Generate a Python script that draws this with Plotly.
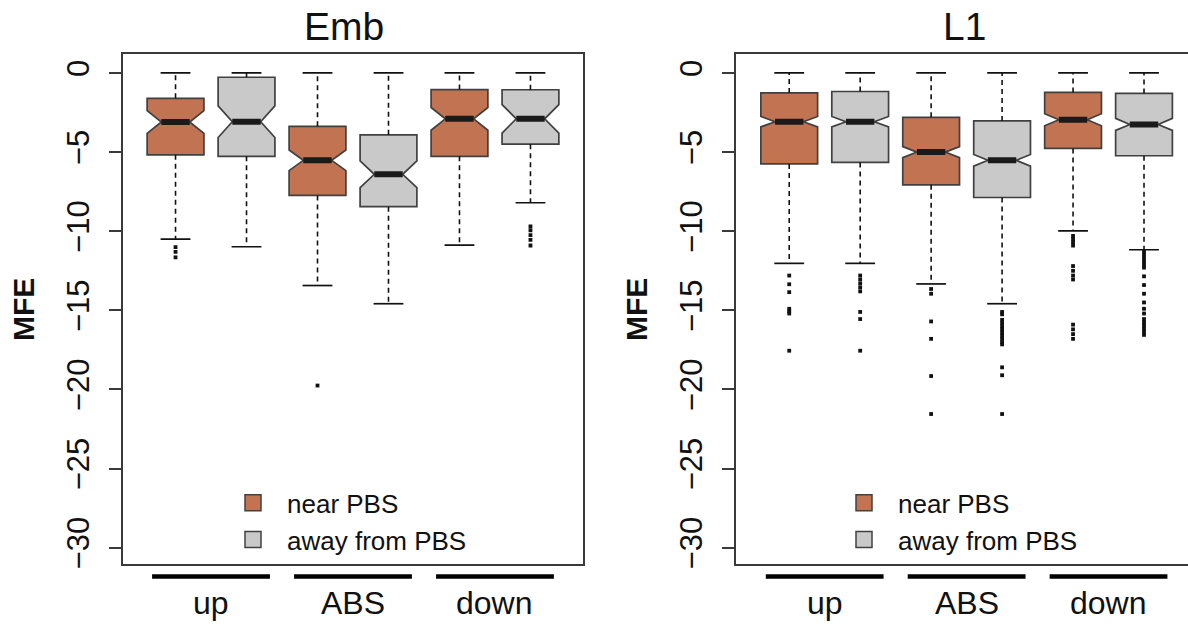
import plotly.graph_objects as go

# ---------------- data ----------------
groups = ["up", "ABS", "down"]
series = ["near PBS", "away from PBS"]
panels = ["Emb", "L1"]

# Emb panel
emb_near_q1 = [-5.17, -7.74, -5.27]
emb_near_med = [-3.10, -5.52, -2.90]
emb_near_q3 = [-1.60, -3.37, -1.05]
emb_near_lo = [-10.50, -13.43, -10.88]
emb_near_hi = [0.0, 0.0, 0.0]
emb_near_notch = [0.72, 0.65, 0.72]
emb_near_out = [[-11.0, -11.3, -11.65], [-19.75], []]

emb_away_q1 = [-5.27, -8.45, -4.50]
emb_away_med = [-3.08, -6.40, -2.90]
emb_away_q3 = [-0.27, -3.91, -1.06]
emb_away_lo = [-10.98, -14.58, -8.20]
emb_away_hi = [0.0, 0.0, 0.0]
emb_away_notch = [1.00, 0.85, 0.90]
emb_away_out = [[], [], [-9.7, -9.95, -10.25, -10.55, -10.9]]

# L1 panel
l1_near_q1 = [-5.75, -7.07, -4.77]
l1_near_med = [-3.08, -5.00, -2.96]
l1_near_q3 = [-1.26, -2.80, -1.23]
l1_near_lo = [-12.03, -13.33, -9.98]
l1_near_hi = [0.0, 0.0, 0.0]
l1_near_notch = [0.33, 0.35, 0.38]
l1_near_out = [
    [-12.8, -13.35, -13.85, -14.9, -15.05, -15.2, -17.55],
    [-13.65, -13.95, -15.7, -16.8, -19.15, -21.55],
    [-10.3, -10.5, -10.7, -10.9, -12.2, -12.5, -12.8, -13.05, -15.9, -16.2, -16.5, -16.8],
]

l1_away_q1 = [-5.65, -7.87, -5.23]
l1_away_med = [-3.08, -5.52, -3.25]
l1_away_q3 = [-1.17, -3.03, -1.29]
l1_away_lo = [-12.03, -14.58, -11.17]
l1_away_hi = [0.0, 0.0, 0.0]
l1_away_notch = [0.33, 0.37, 0.38]
l1_away_out = [
    [-12.8, -13.05, -13.3, -13.55, -13.8, -15.1, -15.55, -17.55],
    [-15.1, -15.25, -15.6, -15.8, -16.0, -16.2, -16.4, -16.6, -16.8, -17.0, -17.15, -18.6, -19.1, -21.55],
    [-11.3, -11.5, -11.7, -11.9, -12.1, -12.3, -12.85, -13.4, -13.95, -14.5, -14.9, -15.2,
     -15.55, -15.75, -15.95, -16.15, -16.35, -16.55],
]

y_ticks = [0, -5, -10, -15, -20, -25, -30]

# ---------------- style ----------------
FONT = "Liberation Sans, Arial, Helvetica, sans-serif"
COL_NEAR = "#C27452"
COL_AWAY = "#C9C9C9"
EDGE = "#404040"
BOXW = 0.8
CAP = 0.21
MEDHW = 0.2

near_pos = [1, 3, 5]
away_pos = [2, 4, 6]

panel_data = [
    dict(xa="x", ya="y", legend="legend",
         near=(emb_near_q1, emb_near_med, emb_near_q3, emb_near_lo, emb_near_hi, emb_near_notch, emb_near_out),
         away=(emb_away_q1, emb_away_med, emb_away_q3, emb_away_lo, emb_away_hi, emb_away_notch, emb_away_out)),
    dict(xa="x2", ya="y2", legend="legend2",
         near=(l1_near_q1, l1_near_med, l1_near_q3, l1_near_lo, l1_near_hi, l1_near_notch, l1_near_out),
         away=(l1_away_q1, l1_away_med, l1_away_q3, l1_away_lo, l1_away_hi, l1_away_notch, l1_away_out)),
]

fig = go.Figure()

# boxes first
for p in panel_data:
    for key, pos, col in (("near", near_pos, COL_NEAR), ("away", away_pos, COL_AWAY)):
        q1, med, q3, lo, hi, nspan, out = p[key]
        fig.add_trace(go.Box(
            x=pos, q1=q1, median=med, q3=q3, lowerfence=q1, upperfence=q3,
            notched=True, notchspan=nspan, notchwidth=0.25,
            width=BOXW, whiskerwidth=0, fillcolor=col,
            line=dict(color=EDGE, width=1.7), boxpoints=False,
            xaxis=p["xa"], yaxis=p["ya"], showlegend=False, hoverinfo="skip"))

# whiskers, caps, medians, outliers
for p in panel_data:
    wx, wy, cx, cy, mx, my, ox, oy = [], [], [], [], [], [], [], []
    for key, pos in (("near", near_pos), ("away", away_pos)):
        q1, med, q3, lo, hi, nspan, out = p[key]
        for i, xp in enumerate(pos):
            wx += [xp, xp, None, xp, xp, None]
            wy += [q3[i], hi[i], None, q1[i], lo[i], None]
            cx += [xp - CAP, xp + CAP, None, xp - CAP, xp + CAP, None]
            cy += [hi[i], hi[i], None, lo[i], lo[i], None]
            mx += [xp - MEDHW, xp + MEDHW, None]
            my += [med[i], med[i], None]
            for v in out[i]:
                ox.append(xp)
                oy.append(v)
    fig.add_trace(go.Scatter(x=wx, y=wy, mode="lines", line=dict(color="#111", width=1.6, dash="5px,4px"),
                             xaxis=p["xa"], yaxis=p["ya"], showlegend=False, hoverinfo="skip"))
    fig.add_trace(go.Scatter(x=cx, y=cy, mode="lines", line=dict(color="#111", width=1.7),
                             xaxis=p["xa"], yaxis=p["ya"], showlegend=False, hoverinfo="skip"))
    fig.add_trace(go.Scatter(x=mx, y=my, mode="lines", line=dict(color="#1a1a1a", width=6),
                             xaxis=p["xa"], yaxis=p["ya"], showlegend=False, hoverinfo="skip"))
    fig.add_trace(go.Scatter(x=ox, y=oy, mode="markers", marker=dict(color="#111", size=3.8, symbol="square"),
                             xaxis=p["xa"], yaxis=p["ya"], showlegend=False, hoverinfo="skip"))
    # legend entries
    for name, col in zip(series, (COL_NEAR, COL_AWAY)):
        fig.add_trace(go.Scatter(x=[None], y=[None], mode="markers", name=name,
                                 marker=dict(symbol="square", size=18, color=col, line=dict(color=EDGE, width=1.5)),
                                 xaxis=p["xa"], yaxis=p["ya"], legend=p["legend"], showlegend=True))

W, H = 1188, 630
def px(x):
    return x / W
def py(y):
    return 1 - y / H

ydom = [py(569), py(54.5)]
axis_common = dict(showgrid=False, zeroline=False, showline=True, linecolor="#3a3a3a", linewidth=1.7)
yaxis_common = dict(axis_common, range=[-31.0, 1.2], tickvals=y_ticks, ticks="outside", ticklen=12,
                    tickwidth=1.5, tickcolor="#3a3a3a", tickangle=-90,
                    tickfont=dict(family=FONT, size=31, color="#111"), ticklabelstandoff=8, domain=ydom)

fig.update_layout(
    width=W, height=H, margin=dict(l=0, r=0, t=0, b=0),
    paper_bgcolor="white", plot_bgcolor="white",
    font=dict(family=FONT, color="#111"),
    xaxis=dict(axis_common, domain=[px(123), px(583)], range=[0.26, 6.74], mirror=True,
               showticklabels=False, ticks="", anchor="y"),
    yaxis=dict(yaxis_common, mirror=True, anchor="x"),
    xaxis2=dict(axis_common, domain=[px(736), 1.0], range=[0.25, 6.62], mirror=True,
                showticklabels=False, ticks="", anchor="y2"),
    yaxis2=dict(yaxis_common, mirror=False, anchor="x2"),
    legend=dict(x=px(219), y=py(484), xanchor="left", yanchor="top", bgcolor="rgba(0,0,0,0)",
                font=dict(family=FONT, size=26, color="#111"), itemwidth=58, tracegroupgap=0),
    legend2=dict(x=px(830), y=py(484), xanchor="left", yanchor="top", bgcolor="rgba(0,0,0,0)",
                 font=dict(family=FONT, size=26, color="#111"), itemwidth=58, tracegroupgap=0),
    showlegend=True,
)

# titles, group labels, axis labels
annotations = []
shapes = []
for title, tx, xa, mfe_x in ((panels[0], 344, "x", 23), (panels[1], 964, "x2", 636)):
    annotations.append(dict(text=title, x=px(tx), y=py(27), xref="paper", yref="paper",
                            xanchor="center", yanchor="middle", showarrow=False,
                            font=dict(family=FONT, size=39, color="#111")))
    annotations.append(dict(text="<b>MFE</b>", x=px(mfe_x), y=py(313), xref="paper", yref="paper",
                            xanchor="center", yanchor="middle", textangle=-90, showarrow=False,
                            font=dict(family=FONT, size=30, color="#111")))
    for gi, g in enumerate(groups):
        center = near_pos[gi] + 0.5
        annotations.append(dict(text=g, x=center, y=py(609), xref=xa, yref="paper",
                                xanchor="center", yanchor="middle", showarrow=False,
                                font=dict(family=FONT, size=32, color="#111")))
        shapes.append(dict(type="line", xref=xa, yref="paper", x0=center - 0.83, x1=center + 0.83,
                           y0=py(582), y1=py(582), line=dict(color="black", width=4.5)))

fig.update_layout(annotations=annotations, shapes=shapes)
fig.write_html("out.html")
